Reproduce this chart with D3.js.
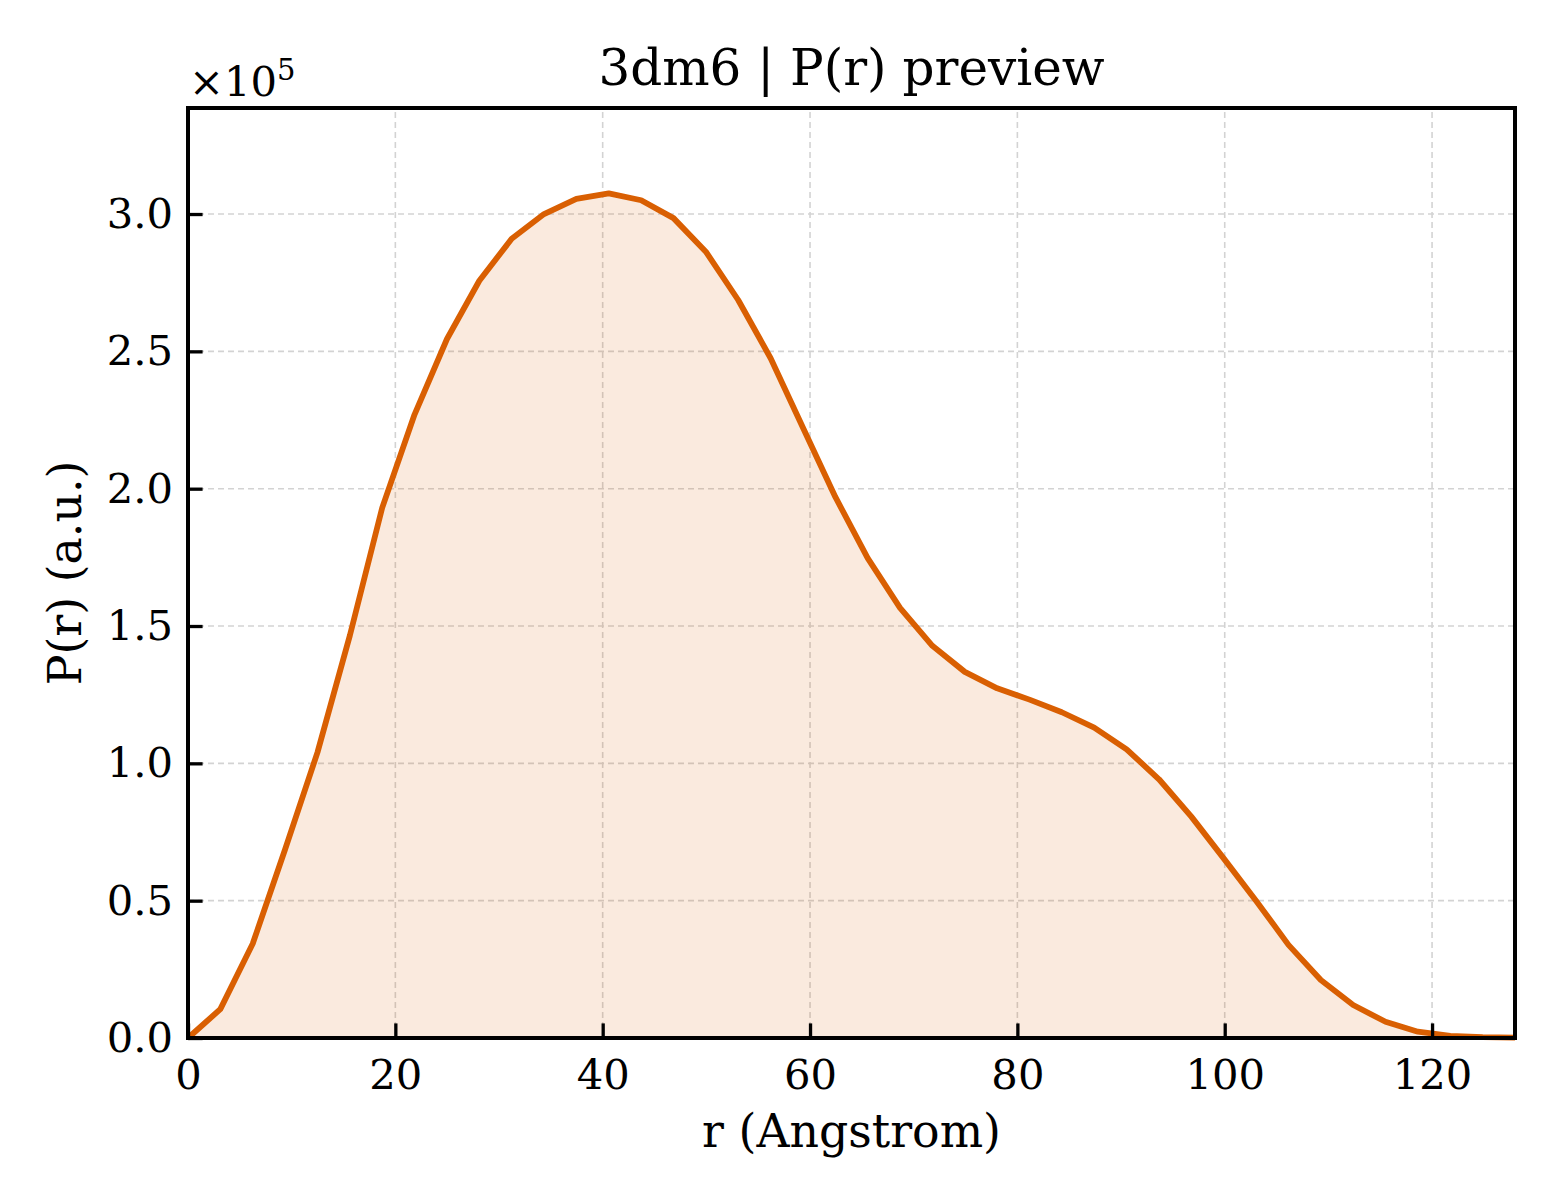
<!DOCTYPE html>
<html>
<head>
<meta charset="utf-8">
<script src="https://cdn.jsdelivr.net/npm/d3@7"></script>
<style>
  body { margin: 0; background: #fff; }
  svg text { font-family: "DejaVu Serif", serif; fill: #000; }
</style>
</head>
<body>
<div id="chart"></div>
<script>
// P(r) samples, r in Angstrom, values in units of 1e5
const rValues = [0, 3.12, 6.24, 9.37, 12.49, 15.61, 18.73, 21.85, 24.98, 28.10,
  31.22, 34.34, 37.46, 40.59, 43.71, 46.83, 49.95, 53.07, 56.20, 59.32,
  62.44, 65.56, 68.68, 71.80, 74.93, 78.05, 81.17, 84.29, 87.41, 90.54,
  93.66, 96.78, 99.90, 103.02, 106.15, 109.27, 112.39, 115.51, 118.63, 121.76,
  124.88, 128.0];
const prValues = [0, 0.105, 0.343, 0.687, 1.04, 1.465, 1.93, 2.27, 2.545, 2.757,
  2.91, 3.0, 3.055, 3.075, 3.05, 2.985, 2.863, 2.687, 2.475, 2.222,
  1.97, 1.747, 1.566, 1.428, 1.333, 1.273, 1.232, 1.186, 1.13, 1.051,
  0.942, 0.806, 0.654, 0.50, 0.339, 0.211, 0.12, 0.059, 0.023, 0.008,
  0.003, 0.001];
const xTicks = [0, 20, 40, 60, 80, 100, 120];
const yTicks = [0, 0.5, 1.0, 1.5, 2.0, 2.5, 3.0];

const width = 1560, height = 1200;
const margin = { left: 188, top: 108, right: 45, bottom: 162 };
const lineCol = '#d95f02';

const data = rValues.map((r, i) => ({ r, v: prValues[i] }));

const x = d3.scaleLinear()
  .domain([0, 128])
  .range([margin.left, width - margin.right]);
const y = d3.scaleLinear()
  .domain([0, 3.386])
  .range([height - margin.bottom, margin.top]);

const svg = d3.select('#chart')
  .append('svg')
  .attr('width', width)
  .attr('height', height);

// grid
const grid = svg.append('g')
  .attr('stroke', '#d3d3d3')
  .attr('stroke-width', 1.6)
  .attr('stroke-dasharray', '6,4');
grid.selectAll('.gx')
  .data(xTicks.slice(1))
  .join('line')
  .attr('x1', d => x(d)).attr('x2', d => x(d))
  .attr('y1', y.range()[0]).attr('y2', y.range()[1]);
grid.selectAll('.gy')
  .data(yTicks.slice(1))
  .join('line')
  .attr('y1', d => y(d)).attr('y2', d => y(d))
  .attr('x1', x.range()[0]).attr('x2', x.range()[1]);

// filled area + line
svg.append('path')
  .datum(data)
  .attr('fill', lineCol)
  .attr('fill-opacity', 0.13)
  .attr('d', d3.area().x(d => x(d.r)).y0(y(0)).y1(d => y(d.v)));

svg.append('path')
  .datum(data)
  .attr('fill', 'none')
  .attr('stroke', lineCol)
  .attr('stroke-width', 5.8)
  .attr('stroke-linejoin', 'round')
  .attr('d', d3.line().x(d => x(d.r)).y(d => y(d.v)));

// axes (ticks inward)
const xAxis = svg.append('g')
  .attr('transform', `translate(0,${y(0)})`)
  .call(d3.axisBottom(x).tickValues(xTicks).tickFormat(d3.format('d'))
    .tickSizeInner(-14.6).tickSizeOuter(0).tickPadding(21));
const yAxis = svg.append('g')
  .attr('transform', `translate(${x(0)},0)`)
  .call(d3.axisLeft(y).tickValues(yTicks).tickFormat(d3.format('.1f'))
    .tickSizeInner(-14.6).tickSizeOuter(0).tickPadding(15));

[xAxis, yAxis].forEach(a => {
  a.select('.domain').remove();
  a.selectAll('.tick line').attr('stroke', '#000').attr('stroke-width', 3.3);
  a.selectAll('.tick text')
    .style('font-size', '41.7px')
    .style('font-family', '"DejaVu Serif", serif');
});
xAxis.selectAll('.tick text').attr('dy', '0.71em');

// frame
svg.append('rect')
  .attr('x', x.range()[0])
  .attr('y', y.range()[1])
  .attr('width', x.range()[1] - x.range()[0])
  .attr('height', y.range()[0] - y.range()[1])
  .attr('fill', 'none')
  .attr('stroke', '#000')
  .attr('stroke-width', 4);

// offset text
const off = svg.append('text')
  .attr('x', 189)
  .attr('y', 96)
  .style('font-size', '41.7px');
off.append('tspan').text('×10');
off.append('tspan').attr('dy', -16).style('font-size', '29px').text('5');

// title and labels
svg.append('text')
  .attr('x', (x.range()[0] + x.range()[1]) / 2)
  .attr('y', 85)
  .attr('text-anchor', 'middle')
  .style('font-size', '50px')
  .text('3dm6 | P(r) preview');

svg.append('text')
  .attr('x', (x.range()[0] + x.range()[1]) / 2)
  .attr('y', 1147)
  .attr('text-anchor', 'middle')
  .style('font-size', '45.8px')
  .text('r (Angstrom)');

svg.append('text')
  .attr('transform', `translate(81,${(y.range()[0] + y.range()[1]) / 2}) rotate(-90)`)
  .attr('text-anchor', 'middle')
  .style('font-size', '45.8px')
  .text('P(r) (a.u.)');
</script>
</body>
</html>
